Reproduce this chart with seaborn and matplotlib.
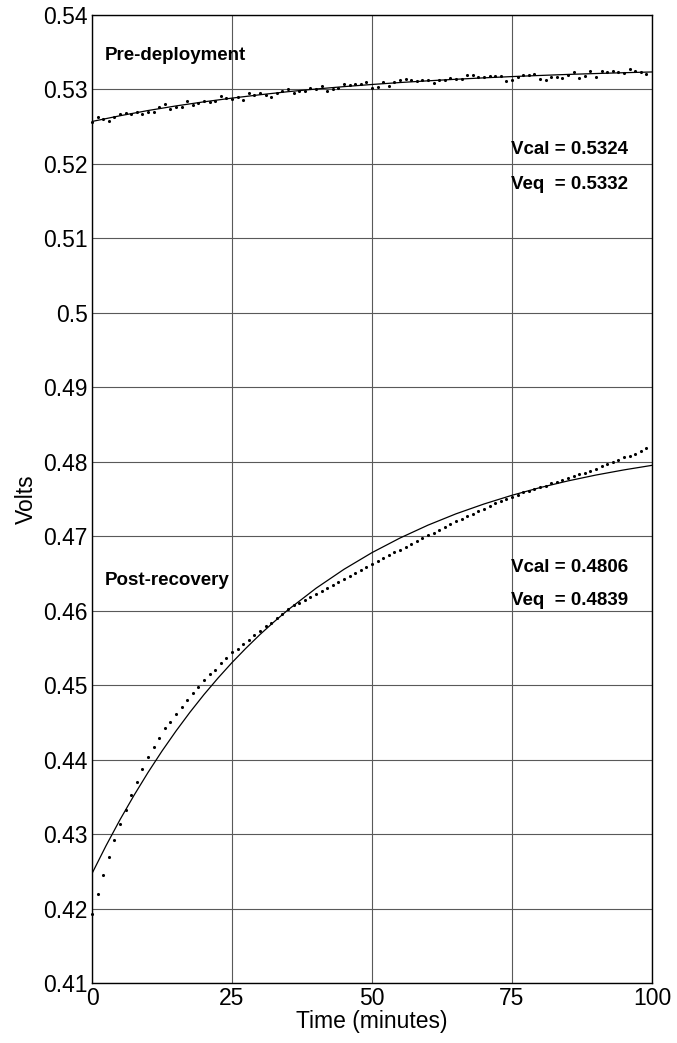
import numpy as np
import pandas as pd
import matplotlib
matplotlib.use("Agg")
import matplotlib.pyplot as plt
import seaborn as sns

# sample times (1 per minute)
minutes = np.arange(0, 100)

# pre-deployment measured voltages
pre_volts = [
    0.52561, 0.52633, 0.52597, 0.52579, 0.52633, 0.52669, 0.52686, 0.52677, 0.52695, 0.52677,
    0.52704, 0.52695, 0.52767, 0.52803, 0.52731, 0.52758, 0.52758, 0.52839, 0.52785, 0.52812,
    0.52839, 0.52830, 0.52848, 0.52910, 0.52884, 0.52875, 0.52901, 0.52857, 0.52946, 0.52919,
    0.52955, 0.52919, 0.52901, 0.52955, 0.52973, 0.53009, 0.52946, 0.52973, 0.52982, 0.53018,
    0.53000, 0.53045, 0.52973, 0.53009, 0.53022, 0.53076, 0.53054, 0.53067, 0.53067, 0.53103,
    0.53018, 0.53031, 0.53099, 0.53045, 0.53103, 0.53125, 0.53134, 0.53125, 0.53112, 0.53125,
    0.53125, 0.53085, 0.53125, 0.53125, 0.53152, 0.53143, 0.53134, 0.53188, 0.53188, 0.53161,
    0.53170, 0.53175, 0.53175, 0.53179, 0.53112, 0.53121, 0.53161, 0.53188, 0.53197, 0.53211,
    0.53139, 0.53130, 0.53161, 0.53166, 0.53148, 0.53193, 0.53233, 0.53157, 0.53179, 0.53242,
    0.53166, 0.53242, 0.53228, 0.53246, 0.53237, 0.53215, 0.53273, 0.53246, 0.53233, 0.53206,
]

# post-recovery measured voltages
post_volts = [
    0.4193, 0.4220, 0.4245, 0.4269, 0.4292, 0.4313, 0.4333, 0.4352, 0.4370, 0.4388,
    0.4404, 0.4417, 0.4429, 0.4442, 0.4451, 0.4461, 0.4471, 0.4480, 0.4489, 0.4498,
    0.4507, 0.4515, 0.4521, 0.4530, 0.4536, 0.4544, 0.4549, 0.4555, 0.4561, 0.4567,
    0.4573, 0.4579, 0.4584, 0.4590, 0.4596, 0.4602, 0.4607, 0.4611, 0.4614, 0.4618,
    0.4622, 0.4626, 0.4631, 0.4635, 0.4639, 0.4643, 0.4647, 0.4651, 0.4655, 0.4659,
    0.4663, 0.4667, 0.4671, 0.4675, 0.4679, 0.4682, 0.4686, 0.4690, 0.4694, 0.4697,
    0.4701, 0.4705, 0.4709, 0.4713, 0.4716, 0.4720, 0.4723, 0.4727, 0.4730, 0.4734,
    0.4737, 0.4740, 0.4744, 0.4747, 0.4750, 0.4753, 0.4756, 0.4759, 0.4761, 0.4764,
    0.4766, 0.4768, 0.4771, 0.4773, 0.4776, 0.4778, 0.4781, 0.4783, 0.4785, 0.4788,
    0.4790, 0.4794, 0.4797, 0.4800, 0.4803, 0.4806, 0.4808, 0.4811, 0.4814, 0.4819,
]

# fitted curves
pre_fit_minutes = [0, 5, 10, 15, 20, 25, 30, 35, 40, 45, 50, 55, 60, 65, 70, 75, 80, 85, 90, 95, 100]
pre_fit = [0.52570, 0.52647, 0.52717, 0.52779, 0.52834, 0.52884, 0.52929, 0.52970, 0.53006, 0.53038,
           0.53067, 0.53093, 0.53116, 0.53137, 0.53156, 0.53173, 0.53188, 0.53202, 0.53214, 0.53225,
           0.53235]
post_fit_minutes = [0, 2.5, 5, 7.5, 10, 12.5, 15, 17.5, 20, 22.5, 25, 27.5, 30, 32.5, 35,
                    40, 45, 50, 55, 60, 65, 70, 75, 80, 85, 90, 95, 100]
post_fit = [0.42470, 0.42843, 0.43193, 0.43520, 0.43827, 0.44115, 0.44384, 0.44637, 0.44874, 0.45095,
            0.45303, 0.45497, 0.45680, 0.45850, 0.46011,
            0.46301, 0.46556, 0.46780, 0.46976, 0.47149, 0.47301, 0.47433, 0.47550, 0.47653, 0.47743,
            0.47822, 0.47891, 0.47952]

y_ticks = [0.41, 0.42, 0.43, 0.44, 0.45, 0.46, 0.47, 0.48, 0.49, 0.5, 0.51, 0.52, 0.53, 0.54]
y_ticklabels = ["0.41", "0.42", "0.43", "0.44", "0.45", "0.46", "0.47", "0.48", "0.49", "0.5",
                "0.51", "0.52", "0.53", "0.54"]
x_ticks = [0, 25, 50, 75, 100]

pts = pd.concat([
    pd.DataFrame({"t": minutes, "v": pre_volts, "run": "pre"}),
    pd.DataFrame({"t": minutes, "v": post_volts, "run": "post"}),
])
fits = pd.concat([
    pd.DataFrame({"t": pre_fit_minutes, "v": pre_fit, "run": "pre"}),
    pd.DataFrame({"t": post_fit_minutes, "v": post_fit, "run": "post"}),
])

sns.set_style("white")
plt.rcParams["font.family"] = ["Liberation Sans", "DejaVu Sans"]
plt.rcParams["text.color"] = "black"
plt.rcParams["axes.labelcolor"] = "black"

fig = plt.figure(figsize=(6.77, 10.43), dpi=100)
ax = fig.add_axes([92 / 677, 1 - 983 / 1043, 560 / 677, 968 / 1043])

sns.lineplot(data=fits, x="t", y="v", units="run", estimator=None, color="black",
             linewidth=0.9, ax=ax, legend=False)
sns.scatterplot(data=pts, x="t", y="v", color="black", s=5, linewidth=0, ax=ax,
                legend=False, clip_on=False)

ax.set_xlim(0, 100)
ax.set_ylim(0.41, 0.54)
ax.set_xticks(x_ticks)
ax.set_xticklabels([str(x) for x in x_ticks])
ax.set_yticks(y_ticks)
ax.set_yticklabels(y_ticklabels)
ax.grid(True, color="0.35", linewidth=0.8, linestyle="-")
ax.set_axisbelow(True)
ax.tick_params(direction="in", length=5, labelsize=16.5, colors="black", pad=3)
for s in ax.spines.values():
    s.set_color("black")
    s.set_linewidth(1.0)

ax.set_xlabel("Time (minutes)", fontsize=16.5, labelpad=0)
ax.set_ylabel("Volts", fontsize=16.5, labelpad=4)

bold = dict(fontsize=13.5, fontweight="bold", va="center", ha="left", color="black")
ax.text(2.2, 0.5346, "Pre-deployment", **bold)
ax.text(74.8, 0.5219, "Vcal = 0.5324", **bold)
ax.text(74.8, 0.5172, "Veq  = 0.5332", **bold)
ax.text(2.2, 0.4641, "Post-recovery", **bold)
ax.text(74.8, 0.4658, "Vcal = 0.4806", **bold)
ax.text(74.8, 0.4614, "Veq  = 0.4839", **bold)

fig.savefig("out.png", dpi=100)
